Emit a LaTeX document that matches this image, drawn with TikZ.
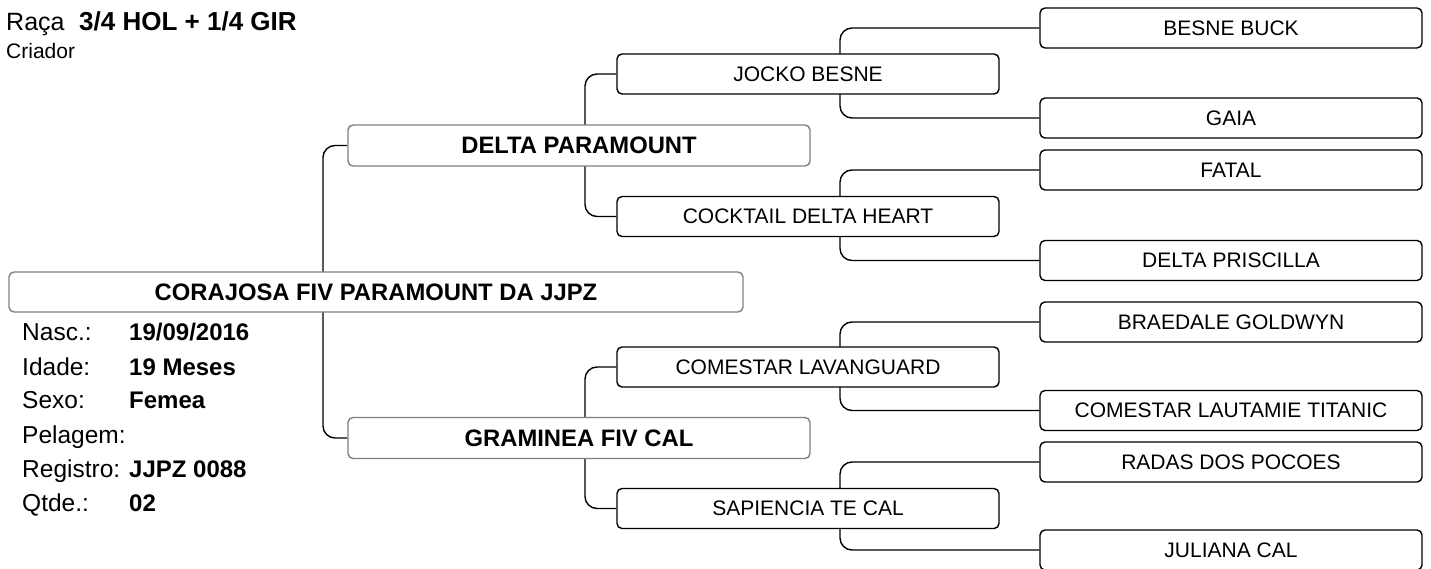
\documentclass[tikz,border=0pt]{standalone}
\usepackage{fontspec}
\setmainfont{Liberation Sans}
\usetikzlibrary{backgrounds}
\begin{document}
\begin{tikzpicture}[x=1pt,y=-1pt,
  box/.style={draw=black, line width=1.4pt, rounded corners=5pt, fill=white, inner sep=0pt, font=\fontsize{21}{24}\selectfont},
  gthree/.style={box, minimum width=382pt, minimum height=40pt},
  gtwo/.style={box, minimum width=382pt, minimum height=40pt},
  gone/.style={box, draw=black!50, minimum width=462pt, minimum height=41pt, font=\fontsize{23.8}{26}\selectfont\bfseries},
  gzero/.style={box, draw=black!50, minimum width=734pt, minimum height=40pt, font=\fontsize{23.8}{26}\selectfont\bfseries},
  conn/.style={draw=black, line width=1.4pt, rounded corners=12pt},
  lbl/.style={anchor=base west, inner sep=0pt, font=\fontsize{24.5}{28}\selectfont},
  val/.style={anchor=base west, inner sep=0pt, font=\fontsize{24}{28}\selectfont\bfseries}
]
\useasboundingbox (0,0) rectangle (1431,569);

% header
\node[anchor=base west, inner sep=0pt, font=\fontsize{25}{28}\selectfont] (raca) at (6,31) {Raça};
\node[anchor=base west, inner sep=0pt, font=\fontsize{26}{30}\selectfont\bfseries] (raceval) at (79,31) {3/4 HOL + 1/4 GIR};
\node[anchor=base west, inner sep=0pt, font=\fontsize{21}{24}\selectfont] (criador) at (6,59) {Criador};

% generation 3
\node[gthree] (g3a) at (1231,28) {BESNE BUCK};
\node[gthree] (g3b) at (1231,118) {GAIA};
\node[gthree] (g3c) at (1231,170) {FATAL};
\node[gthree] (g3d) at (1231,260.5) {DELTA PRISCILLA};
\node[gthree] (g3e) at (1231,322) {BRAEDALE GOLDWYN};
\node[gthree] (g3f) at (1231,410.5) {COMESTAR LAUTAMIE TITANIC};
\node[gthree] (g3g) at (1231,462) {RADAS DOS POCOES};
\node[gthree] (g3h) at (1231,550) {JULIANA CAL};

% generation 2
\node[gtwo] (g2a) at (808,74) {JOCKO BESNE};
\node[gtwo] (g2b) at (808,216.5) {COCKTAIL DELTA HEART};
\node[gtwo] (g2c) at (808,367) {COMESTAR LAVANGUARD};
\node[gtwo] (g2d) at (808,508.5) {SAPIENCIA TE CAL};

% generation 1
\node[gone] (g1a) at (579,145.5) {DELTA PARAMOUNT};
\node[gone] (g1b) at (579,438) {GRAMINEA FIV CAL};

% generation 0
\node[gzero] (g0) at (376,292) {CORAJOSA FIV PARAMOUNT DA JJPZ};

% spines
\coordinate (s0) at (323,0);
\coordinate (s1) at (585,0);
\coordinate (s2) at (840,0);

\begin{pgfonlayer}{background}
\draw[conn] (g1a.west) -- (g1a.west -| s0) -- (g1b.west -| s0) -- (g1b.west);
\draw[conn] (g2a.west) -- (g2a.west -| s1) -- (g2b.west -| s1) -- (g2b.west);
\draw[conn] (g2c.west) -- (g2c.west -| s1) -- (g2d.west -| s1) -- (g2d.west);
\draw[conn] (g3a.west) -- (g3a.west -| s2) -- (g3b.west -| s2) -- (g3b.west);
\draw[conn] (g3c.west) -- (g3c.west -| s2) -- (g3d.west -| s2) -- (g3d.west);
\draw[conn] (g3e.west) -- (g3e.west -| s2) -- (g3f.west -| s2) -- (g3f.west);
\draw[conn] (g3g.west) -- (g3g.west -| s2) -- (g3h.west -| s2) -- (g3h.west);
\end{pgfonlayer}

% details
\node[lbl] (l1) at (22,340.5) {Nasc.:};
\node[val] (v1) at (129,340.5) {19/09/2016};
\node[lbl] (l2) at (22,375) {Idade:};
\node[val] (v2) at (129,375) {19 Meses};
\node[lbl] (l3) at (22,408.5) {Sexo:};
\node[val] (v3) at (129,408.5) {Femea};
\node[lbl] (l4) at (22,443) {Pelagem:};
\node[lbl] (l5) at (22,477) {Registro:};
\node[val] (v5) at (129,477) {JJPZ 0088};
\node[lbl] (l6) at (22,511) {Qtde.:};
\node[val] (v6) at (129,511) {02};
\end{tikzpicture}
\end{document}
